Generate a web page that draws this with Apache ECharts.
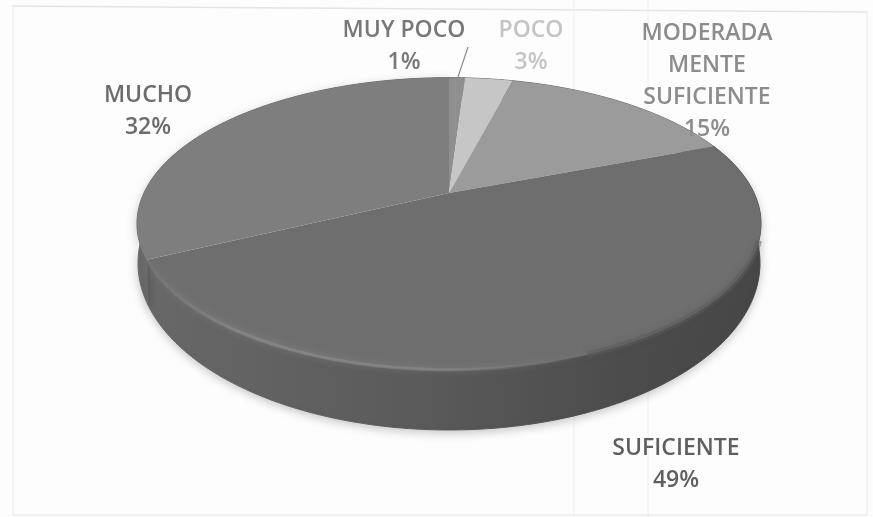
<!DOCTYPE html>
<html><head><meta charset="utf-8">
<style>html,body{margin:0;padding:0;background:#fdfdfd}#c{width:873px;height:517px}</style>
<script src="https://cdn.jsdelivr.net/npm/echarts@6/dist/echarts.min.js"></script>
</head><body><div id="c"></div>
<script>
const categories = ['MUY POCO','POCO','MODERADA\nMENTE\nSUFICIENTE','SUFICIENTE','MUCHO'];
const percents = [1,3,15,49,32];

const topColors = ['#8f8f8f','#c6c6c6','#9b9b9b','#6e6e6e','#7e7e7e'];
const textColors = ['#777777','#c4c4c4','#8c8c8c','#5f5f5f','#6c6c6c'];
const labelAt = [[404,46],[531,46],[707,81],[676,464],[148,111]];
const K = 0.2, CX = 449, APEX_Y = 193;
const TOP = {rx:305.7, ry:140.2, cy:194.5};
const LOW = {rx:304.7, ry:160.3, cy:229.6};
const total = percents.reduce((a,b)=>a+b,0);
const starts = []; percents.reduce((a,b,i)=>(starts[i]=a,a+b),0);

function pt(g, frac){
  const t = frac*2*Math.PI, u = Math.sin(t), v = -Math.cos(t), w = 1-K*v;
  return [CX+g.rx*u/w, g.cy+g.ry*v/w];
}
function arc(g, a, b){
  const out=[], n=Math.max(4,Math.ceil((b-a)*360));
  for(let i=0;i<=n;i++) out.push(pt(g,a+(b-a)*i/n));
  return out;
}
function fr(i){ return [starts[i]/total,(starts[i]+percents[i])/total]; }

function renderSide(params, api){
  const i = params.dataIndex, [a,b] = fr(i);
  const pts = arc(TOP,a,b).concat(arc(LOW,a,b).reverse());
  const fill = i===3
    ? {type:'linear',x:0,y:0,x2:1,y2:0,colorStops:[{offset:0,color:'#686868'},{offset:.45,color:'#5a5a5a'},{offset:.8,color:'#4b4b4b'},{offset:1,color:'#464646'}]}
    : '#6a6a6a';
  return {type:'polygon',shape:{points:pts},style:{fill,stroke:fill,lineWidth:1,shadowBlur:i>=3?8:0,shadowColor:'rgba(0,0,0,.2)',shadowOffsetY:3}};
}
function renderTop(params, api){
  const i = params.dataIndex, [a,b] = fr(i);
  const pts = [[CX,APEX_Y]].concat(arc(TOP,a,b));
  const children = [{type:'polygon',shape:{points:pts},style:{fill:topColors[i]}}];
  if(i===3){
    children.push({type:'polyline',shape:{points:arc(TOP,.30,.44)},style:{fill:null,lineWidth:6,opacity:.5,
      stroke:'#5a5a5a',shadowBlur:8,shadowColor:'rgba(80,80,80,.6)'}});
    children.push({type:'polyline',shape:{points:arc(TOP,.43,b)},style:{fill:null,lineWidth:3,
      shadowBlur:7,shadowColor:'rgba(150,150,150,.8)',
      stroke:{type:'linear',x:1,y:0,x2:0,y2:0,colorStops:[{offset:0,color:'rgba(110,110,110,0)'},{offset:.35,color:'rgba(140,140,140,.6)'},{offset:.8,color:'rgba(136,136,136,.8)'},{offset:1,color:'rgba(120,120,120,.4)'}]}}});
  }
  children.push({type:'text',style:{x:labelAt[i][0],y:labelAt[i][1],text:categories[i]+'\n'+api.value(1)+'%',
    fill:textColors[i],fontFamily:'"Open Sans"',fontWeight:600,fontSize:23,lineHeight:32,align:'center',verticalAlign:'middle'}});
  return {type:'group',children};
}
const rows = percents.map((p,i)=>[i,p]);
const chart = echarts.init(document.getElementById('c'),null,{renderer:'canvas'});
chart.setOption({
  animation:false,
  backgroundColor:'#fdfdfd',
  graphic:{elements:[
    {type:'line',shape:{x1:12,y1:6,x2:868,y2:12},style:{stroke:'#e4e4e4',lineWidth:1.5}},
    {type:'line',shape:{x1:13,y1:6,x2:13,y2:515},style:{stroke:'#ececec',lineWidth:1.5}},
    {type:'line',shape:{x1:12,y1:515,x2:868,y2:515},style:{stroke:'#ececec',lineWidth:1.5}},
    {type:'line',shape:{x1:867,y1:12,x2:867,y2:515},style:{stroke:'#eeeeee',lineWidth:1.5}},
    {type:'line',shape:{x1:574,y1:0,x2:574,y2:517},style:{stroke:'#eeeeee',lineWidth:1}},
    {type:'line',shape:{x1:648,y1:0,x2:648,y2:517},style:{stroke:'#eeeeee',lineWidth:1}},
    {type:'line',z:20,shape:{x1:468,y1:47,x2:458,y2:77},style:{stroke:'#8a8a8a',lineWidth:1.2}}
  ]},
  series:[
    {type:'custom',coordinateSystem:'none',z:3,data:rows,renderItem:renderSide,silent:true},
    {type:'custom',coordinateSystem:'none',z:4,data:rows,renderItem:renderTop,silent:true}
  ]
});
</script></body></html>
